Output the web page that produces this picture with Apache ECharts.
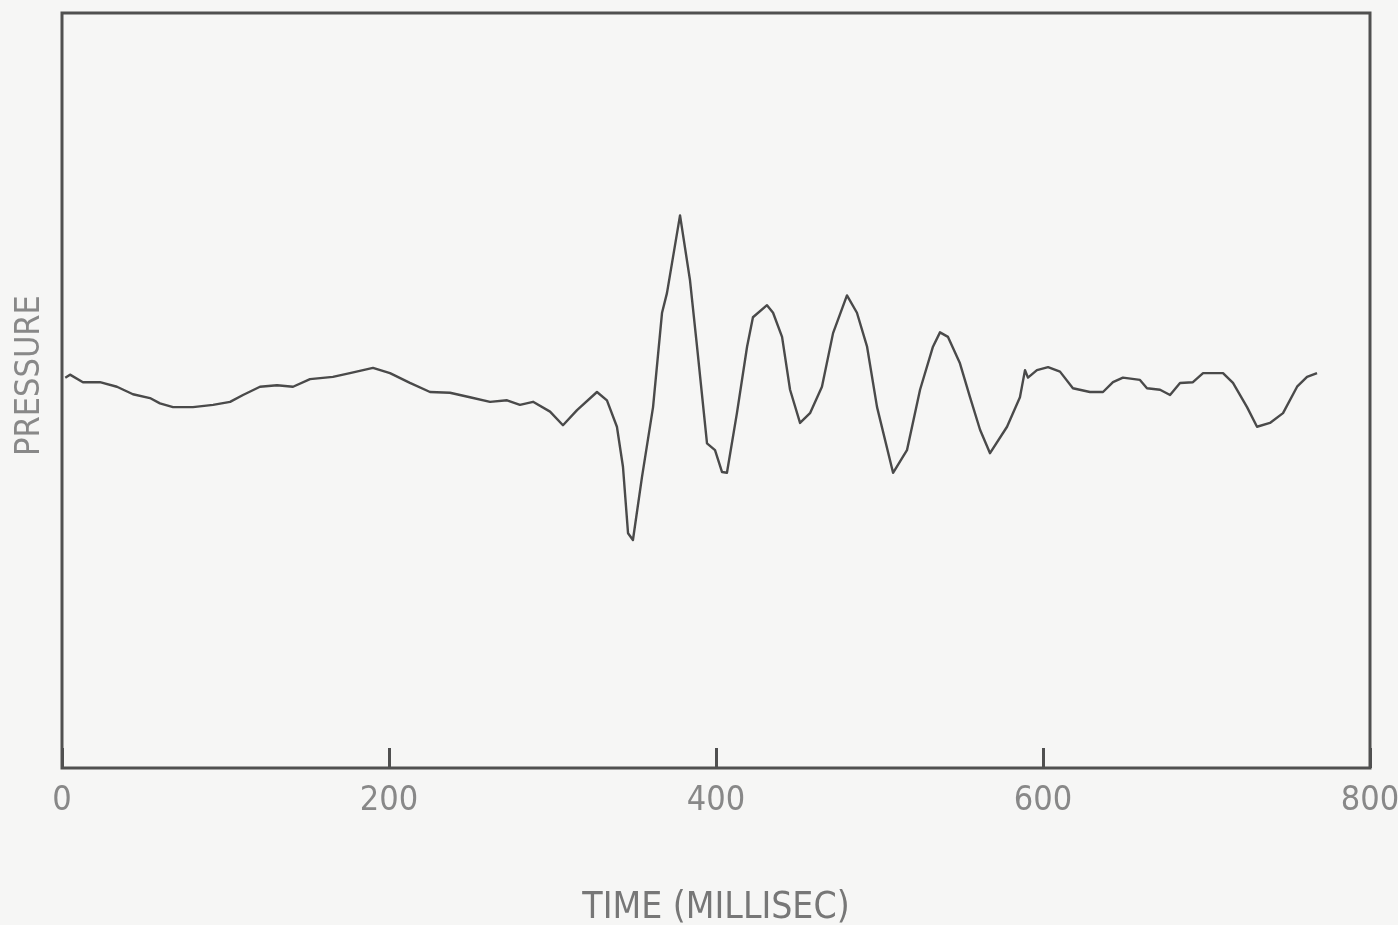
<!DOCTYPE html>
<html>
<head>
<meta charset="utf-8">
<title>Pressure vs time</title>
<script src="https://cdn.jsdelivr.net/npm/echarts@6/dist/echarts.min.js"></script>
<style>
  html, body { margin: 0; padding: 0; background: #f6f6f5; }
  #myChart { width: 1398px; height: 925px; }
</style>
</head>
<body>
<div id="myChart"></div>
<script>
// time in milliseconds
var timeMs = [2, 4.9, 12.8, 23.2, 33.6, 43.4, 53.8, 59.9, 67.9, 80.1, 92.4, 102.8, 110.7, 121.1, 131.5,
    141.3, 151.7, 165.7, 176.1, 190.2, 200.6, 212.8, 225.1, 237.3, 249.5, 261.8, 272.2, 280.1, 288.1,
    298.5, 306.4, 315.0, 327.2, 333.3, 339.4, 343.1, 346.2, 349.2, 354.7, 361.5, 367.0, 370.0, 378.0,
    384.1, 388.4, 394.5, 399.4, 403.7, 406.7, 412.8, 419.0, 422.6, 431.2, 434.9, 440.4, 445.3, 451.4,
    457.5, 464.8, 471.6, 480.1, 486.2, 492.4, 498.5, 508.3, 516.8, 524.8, 532.7, 537.0, 541.9, 549.2,
    555.4, 561.5, 567.6, 578.0, 585.9, 589.0, 590.8, 596.3, 603.1, 610.4, 618.3, 628.7, 636.7, 642.8,
    648.9, 659.3, 663.6, 671.6, 677.7, 683.8, 691.7, 697.9, 710.1, 716.2, 724.8, 730.9, 738.8, 746.8,
    755.4, 761.5, 767.6];
// pressure, arbitrary units (no scale printed on the original)
var pressure = [51.7, 52.1, 51.1, 51.1, 50.5, 49.5, 49.0, 48.3, 47.8, 47.8, 48.1, 48.5, 49.4, 50.5, 50.7,
    50.5, 51.5, 51.8, 52.3, 53.0, 52.3, 51.0, 49.8, 49.7, 49.1, 48.5, 48.7, 48.1, 48.5,
    47.2, 45.4, 47.4, 49.8, 48.7, 45.2, 39.9, 31.1, 30.2, 38.5, 47.8, 60.3, 62.9, 73.2,
    64.6, 55.8, 43.0, 42.1, 39.2, 39.1, 47.0, 55.8, 59.7, 61.3, 60.3, 57.1, 50.1, 45.7,
    47.0, 50.5, 57.6, 62.6, 60.3, 55.8, 47.8, 39.1, 42.1, 50.1, 55.8, 57.7, 57.1, 53.6,
    49.1, 44.8, 41.7, 45.2, 49.1, 52.7, 51.7, 52.7, 53.1, 52.5, 50.3, 49.8, 49.8, 51.1,
    51.7, 51.4, 50.3, 50.1, 49.4, 51.0, 51.1, 52.3, 52.3, 51.0, 47.8, 45.2, 45.7, 47.0,
    50.5, 51.8, 52.3];

var points = timeMs.map(function (t, i) { return [t, pressure[i]]; });

var textFont = '"DejaVu Sans Condensed", "Liberation Sans Narrow", sans-serif';

var myChart = echarts.init(document.getElementById('myChart'));

var option = {
    backgroundColor: '#f6f6f5',
    animation: false,
    grid: {
        left: 62,
        right: 28,
        top: 13,
        bottom: 157,
        outerBoundsMode: 'none',
        containLabel: false,
        show: true,
        borderColor: '#505050',
        borderWidth: 3,
        backgroundColor: 'transparent'
    },
    xAxis: {
        type: 'value',
        min: 0,
        max: 800,
        interval: 200,
        name: 'TIME (MILLISEC)',
        nameLocation: 'middle',
        nameGap: 122,
        nameTextStyle: { fontFamily: textFont, fontSize: 37, color: '#777' },
        axisLine: { show: false },
        axisTick: { show: true, inside: true, length: 20, lineStyle: { color: '#505050', width: 3 } },
        splitLine: { show: false },
        axisLabel: { margin: 16, fontFamily: textFont, fontSize: 34, color: '#888' }
    },
    yAxis: {
        type: 'value',
        min: 0,
        max: 100,
        name: 'PRESSURE',
        nameLocation: 'middle',
        nameGap: 15,
        nameRotate: 90,
        nameTextStyle: { fontFamily: textFont, fontSize: 34, color: '#888', padding: [0, 0, 0, 30] },
        axisLine: { show: false },
        axisTick: { show: false },
        axisLabel: { show: false },
        splitLine: { show: false }
    },
    series: [
        {
            type: 'line',
            data: points,
            showSymbol: false,
            smooth: false,
            lineStyle: { color: '#4a4a4a', width: 2.4, join: 'round' }
        }
    ]
};

myChart.setOption(option);

window.onresize = function () {
    myChart.resize();
};
</script>
</body>
</html>
